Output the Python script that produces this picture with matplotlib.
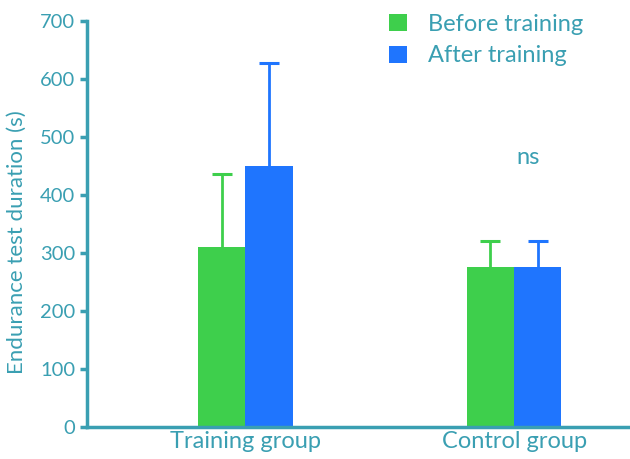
import matplotlib.pyplot as plt
import numpy as np

groups = ["Training group", "Control group"]
before = [310, 276]
after = [450, 276]
before_err = [126, 45]
after_err = [177, 45]
series_names = ["Before training", "After training"]

teal = "#3a9fb2"
green = "#3ecf4c"
blue = "#1f75fe"

plt.rcParams["font.family"] = ["Lato", "DejaVu Sans"]

fig = plt.figure(figsize=(6.3, 4.59), dpi=100)
ax = fig.add_axes([0.138, 0.0697, 0.87, 0.8845])

x = np.arange(len(groups))
w = 0.176
ax.bar(x - w / 2, before, w, color=green, label=series_names[0], zorder=2)
ax.bar(x + w / 2, after, w, color=blue, label=series_names[1], zorder=2)

# upper-only error bars: stem plus a cap at the top
for xs, vals, errs, col in [(x - w / 2, before, before_err, green),
                            (x + w / 2, after, after_err, blue)]:
    tops = np.array(vals) + np.array(errs)
    ax.vlines(xs, vals, tops, colors=col, linewidth=2, zorder=1)
    ax.plot(xs, tops, linestyle="none", marker="_", markersize=15,
            markeredgewidth=2.2, color=col, zorder=1)

ax.text(1.05, 464, "ns", color=teal, fontsize=17, ha="center", va="center")

ax.set_xlim(-0.59, 1.45)
ax.set_ylim(0, 700)
ax.set_yticks(range(0, 701, 100))
ax.set_xticks(x)
ax.set_xticklabels(groups)
ax.set_ylabel("Endurance test duration (s)", color=teal, fontsize=16)
ax.yaxis.set_label_coords(-0.11, 0.455)

for side in ("top", "right"):
    ax.spines[side].set_visible(False)
for side in ("left", "bottom"):
    ax.spines[side].set_color(teal)
    ax.spines[side].set_linewidth(2.5)
ax.tick_params(axis="y", colors=teal, labelsize=14.5, width=2.5, length=5)
ax.tick_params(axis="x", colors=teal, labelsize=17, length=0, pad=3)

ax.legend(loc="upper left", bbox_to_anchor=(0.512, 1.07), frameon=False,
          fontsize=17, labelcolor=teal, handlelength=0.75, handleheight=0.75,
          handletextpad=0.9, labelspacing=0.45)

fig.savefig("out.png", dpi=100)
